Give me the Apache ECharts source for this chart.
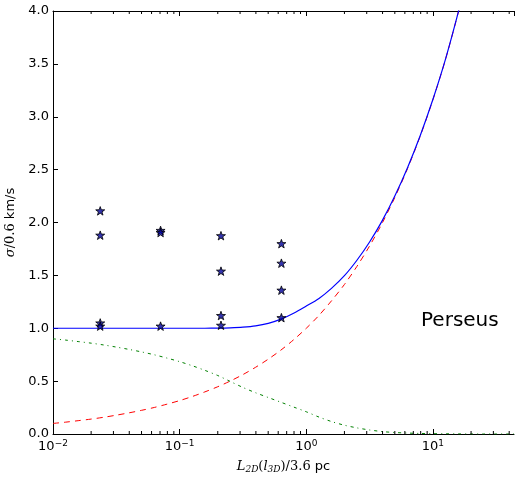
<!DOCTYPE html>
<html>
<head>
<meta charset="utf-8">
<script src="https://cdn.jsdelivr.net/npm/echarts@6/dist/echarts.min.js"></script>
<style>
html,body{margin:0;padding:0;background:#fff;}
#c{width:515px;height:478px;}
</style>
</head>
<body>
<div id="c"></div>
<script>
// ---- data ----
var curveX = [0.01, 0.0126, 0.0158, 0.02, 0.0251, 0.0316, 0.0398, 0.0501, 0.0631, 0.0794, 0.1, 0.126, 0.158, 0.2, 0.251, 0.316, 0.398, 0.501, 0.631, 0.794, 1.0, 1.26, 1.58, 2.0, 2.51, 3.16, 3.98, 5.01, 6.31, 7.94, 10, 12.6, 15.8, 20, 25.1, 31.6, 39.8, 43.65];
var totalY = [1.0, 1.0, 1.0, 1.0, 1.0, 1.0, 1.0, 1.0, 1.0, 1.0, 1.0, 1.0, 1.0, 1.001, 1.004, 1.01, 1.022, 1.046, 1.086, 1.142, 1.21, 1.282, 1.377, 1.497, 1.643, 1.816, 2.018, 2.253, 2.521, 2.823, 3.165, 3.55, 3.982, 4.467, 5.01, 5.62, 6.31, 6.61];
var turbY  = [0.10, 0.112, 0.126, 0.141, 0.158, 0.178, 0.20, 0.224, 0.251, 0.282, 0.316, 0.355, 0.398, 0.447, 0.501, 0.562, 0.631, 0.708, 0.794, 0.891, 1.0, 1.122, 1.259, 1.414, 1.585, 1.778, 1.995, 2.239, 2.512, 2.818, 3.162, 3.548, 3.981, 4.467, 5.01, 5.62, 6.31, 6.61];
var thermY = [0.90, 0.888, 0.874, 0.859, 0.842, 0.822, 0.80, 0.776, 0.749, 0.718, 0.684, 0.645, 0.602, 0.553, 0.497, 0.44, 0.39, 0.345, 0.30, 0.255, 0.21, 0.16, 0.118, 0.083, 0.058, 0.038, 0.023, 0.014, 0.009, 0.005, 0.003, 0.002, 0.001, 0, 0, 0, 0, 0];
var starX = [0.0236, 0.0236, 0.0236, 0.0236, 0.0707, 0.0707, 0.0707, 0.212, 0.212, 0.212, 0.212, 0.636, 0.636, 0.636, 0.636];
var starY = [2.11, 1.88, 1.05, 1.02, 1.925, 1.905, 1.02, 1.875, 1.54, 1.12, 1.028, 1.80, 1.615, 1.36, 1.10];
var minorXTicks = [0.02,0.03,0.04,0.05,0.06,0.07,0.08,0.09,0.2,0.3,0.4,0.5,0.6,0.7,0.8,0.9,2,3,4,5,6,7,8,9,20,30,40];
var xMin = 0.01, xMax = 43.65, yMin = 0, yMax = 4, yStep = 0.5;
var labelText = 'Perseus';

function pairs(xs, ys){ return xs.map(function(x,i){ return [x, ys[i]]; }); }

var STAR = 'path://M0,-10 L2.35,-3.24 L9.51,-3.09 L3.8,1.24 L5.88,8.09 L0,4 L-5.88,8.09 L-3.8,1.24 L-9.51,-3.09 L-2.35,-3.24 Z';
var FONT = 'DejaVu Sans';

var chart = echarts.init(document.getElementById('c'), null, {renderer:'canvas'});
var supRich = {
  b: {fontFamily: FONT, fontSize: 13, color: '#000'},
  sup: {fontFamily: FONT, fontSize: 9, color: '#000', verticalAlign: 'top', padding: [0,0,7,0]}
};
function expLabel(v){
  var e = Math.round(Math.log10(v));
  return '{b|10}{sup|' + (e < 0 ? '\u2212' + (-e) : e) + '}';
}
var option = {
  animation: false,
  backgroundColor: '#fff',
  grid: {left: 53, right: 1, top: 11, bottom: 44, containLabel: false, outerBoundsMode: 'none'},
  xAxis: [{
    type: 'log', logBase: 10, min: xMin, max: xMax, position: 'bottom',
    axisLine: {show: true, onZero: false, lineStyle: {color: '#000', width: 1}},
    axisTick: {show: true, inside: true, length: 5, lineStyle: {color: '#000'}},
    splitLine: {show: false},
    axisLabel: {margin: 5, formatter: expLabel, rich: supRich, showMaxLabel: false},
    name: '{it|L}{sub|2D}{rm|(}{it|l}{sub|3D}{rm|)/3.6 }{sf|pc}',
    nameLocation: 'middle', nameGap: 26,
    nameTextStyle: {
      rich: {
        it: {fontFamily: 'DejaVu Serif', fontStyle: 'italic', fontSize: 13, color: '#000'},
        rm: {fontFamily: 'DejaVu Serif', fontSize: 13, color: '#000'},
        sf: {fontFamily: FONT, fontSize: 13, color: '#000'},
        sub: {fontFamily: 'DejaVu Serif', fontStyle: 'italic', fontSize: 9, color: '#000', verticalAlign: 'bottom', padding: [5,0,0,0]}
      }
    }
  }, {
    type: 'log', logBase: 10, min: xMin, max: xMax, position: 'top',
    axisLine: {show: true, onZero: false, lineStyle: {color: '#000', width: 1}},
    axisTick: {show: true, inside: true, length: 5, lineStyle: {color: '#000'}},
    splitLine: {show: false}, axisLabel: {show: false}
  }],
  yAxis: [{
    type: 'value', min: yMin, max: yMax, interval: yStep,
    axisLine: {show: true, onZero: false, lineStyle: {color: '#000', width: 1}},
    axisTick: {show: true, inside: true, length: 5, lineStyle: {color: '#000'}},
    splitLine: {show: false},
    axisLabel: {margin: 4, fontFamily: FONT, fontSize: 13, color: '#000',
      formatter: function(v){ return v.toFixed(1); }},
    name: '{it|\u03c3}{rm|/0.6 }{sf|km/s}',
    nameLocation: 'middle', nameGap: 28,
    nameTextStyle: {
      rich: {
        it: {fontFamily: 'DejaVu Serif', fontStyle: 'italic', fontSize: 13, color: '#000'},
        rm: {fontFamily: 'DejaVu Serif', fontSize: 13, color: '#000'},
        sf: {fontFamily: FONT, fontSize: 13, color: '#000'}
      }
    }
  }],
  series: [{
    type: 'line', data: pairs(curveX, turbY), smooth: 0.3, showSymbol: false, symbol: 'none',
    lineStyle: {color: '#ff0000', width: 1, type: [6,5]}, z: 2, clip: true
  }, {
    type: 'line', data: pairs(curveX, thermY), smooth: 0.3, showSymbol: false, symbol: 'none',
    lineStyle: {color: '#008000', width: 1, type: [3,4,1,4]}, z: 2, clip: true
  }, {
    type: 'line', data: pairs(curveX, totalY), smooth: 0.3, showSymbol: false, symbol: 'none',
    lineStyle: {color: '#0000ff', width: 1.2}, z: 3, clip: true
  }, {
    type: 'scatter', data: pairs(starX, starY), symbol: STAR, symbolSize: 9, symbolKeepAspect: true,
    itemStyle: {color: '#000099', borderColor: '#000', borderWidth: 1}, z: 5
  }, {
    type: 'custom', silent: true, clip: false, z: 6,
    data: minorXTicks.map(function(x){ return [x]; }),
    renderItem: function(params, api){
      var x = api.value(0);
      var pb = api.coord([x, yMin]);
      var pt = api.coord([x, yMax]);
      return {type: 'group', children: [
        {type: 'line', shape: {x1: pb[0], y1: pb[1], x2: pb[0], y2: pb[1]-3}, style: {stroke: '#000', lineWidth: 1}},
        {type: 'line', shape: {x1: pt[0], y1: pt[1], x2: pt[0], y2: pt[1]+3}, style: {stroke: '#000', lineWidth: 1}}
      ]};
    },
    encode: {x: 0}
  }],
  graphic: [{
    type: 'text', left: 421, top: 311,
    style: {text: labelText, fontFamily: FONT, fontSize: 20, fill: '#000'}
  }]
};
chart.setOption(option);
</script>
</body>
</html>
